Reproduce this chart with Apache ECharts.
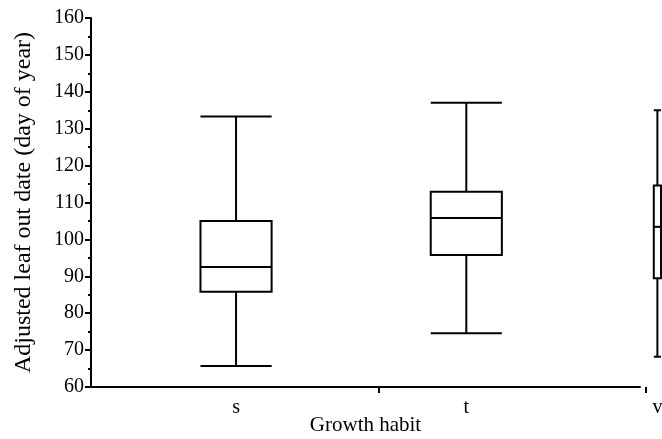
<!DOCTYPE html>
<html>
<head>
<meta charset="utf-8">
<script src="https://cdn.jsdelivr.net/npm/echarts@6/dist/echarts.min.js"></script>
<style>
  html, body { margin: 0; padding: 0; background: #fff; }
  #chart { width: 662px; height: 439px; }
</style>
</head>
<body>
<div id="chart"></div>
<script>
// ---- data ----
const categories = ['s', 't', 'v'];
const mins    = [65.7, 74.6, 68.2];
const q1s     = [85.8, 95.8, 89.5];
const medians = [92.5, 105.8, 103.4];
const q3s     = [105.0, 112.9, 114.6];
const maxs    = [133.3, 137.0, 135.0];
const yMin = 60, yMax = 160, yStep = 10;
const yTitle = 'Adjusted leaf out date (day of year)';
const xTitle = 'Growth habit';

// ---- layout helpers ----
const catPos = [1, 2, 2.83];          // where each category sits on the x scale
const tickPos = [1.62, 2.78];         // separator ticks on the x axis
const serif = "'Liberation Serif', 'Times New Roman', serif";

const boxData = categories.map((c, i) => [catPos[i], mins[i], q1s[i], medians[i], q3s[i], maxs[i]]);

const chart = echarts.init(document.getElementById('chart'), null, { renderer: 'canvas' });

function renderBox(params, api) {
  const x = api.value(0);
  const pMin = api.coord([x, api.value(1)]);
  const pQ1 = api.coord([x, api.value(2)]);
  const pMed = api.coord([x, api.value(3)]);
  const pQ3 = api.coord([x, api.value(4)]);
  const pMax = api.coord([x, api.value(5)]);
  const cx = pMin[0];
  let hw = api.size([0.309, 0])[0] / 2;
  hw = Math.min(hw, api.getWidth() - 1 - cx);
  const st = { stroke: '#000', lineWidth: 2, fill: null };
  const line = (x1, y1, x2, y2) => ({ type: 'line', shape: { x1, y1, x2, y2 }, style: st });
  return {
    type: 'group',
    children: [
      line(cx, pMax[1], cx, pQ3[1]),
      line(cx, pQ1[1], cx, pMin[1]),
      line(cx - hw, pMax[1], cx + hw, pMax[1]),
      line(cx - hw, pMin[1], cx + hw, pMin[1]),
      { type: 'rect', shape: { x: cx - hw, y: pQ3[1], width: 2 * hw, height: pQ1[1] - pQ3[1] },
        style: { stroke: '#000', lineWidth: 2, fill: '#fff' } },
      line(cx - hw, pMed[1], cx + hw, pMed[1])
    ]
  };
}

const option = {
  backgroundColor: '#fff',
  animation: false,
  grid: [
    { left: 91, right: 0, top: 18, bottom: 52, containLabel: false, outerBoundsMode: 'none' },
    { left: 91, right: 22, top: 18, bottom: 52, containLabel: false, outerBoundsMode: 'none' }
  ],
  xAxis: [
    {
      gridIndex: 0,
      type: 'value',
      min: 0.37,
      max: 2.85,
      axisLine: { show: false },
      splitLine: { show: false },
      axisTick: {
        show: true,
        customValues: tickPos,
        length: 6,
        lineStyle: { color: '#000', width: 2 }
      },
      axisLabel: {
        show: true,
        customValues: catPos,
        margin: 11,
        color: '#000',
        fontFamily: serif,
        fontSize: 20,
        formatter: function (v) {
          const i = catPos.findIndex(p => Math.abs(p - v) < 1e-6);
          return i >= 0 ? categories[i] : '';
        }
      }
    },
    {
      gridIndex: 1,
      type: 'value',
      min: 0,
      max: 1,
      axisLine: { show: true, lineStyle: { color: '#000', width: 2 } },
      axisTick: { show: false },
      axisLabel: { show: false },
      splitLine: { show: false },
      name: xTitle,
      nameLocation: 'middle',
      nameGap: 28,
      nameTextStyle: { color: '#000', fontFamily: serif, fontSize: 21 }
    }
  ],
  yAxis: [
    {
      gridIndex: 0,
      type: 'value',
      min: yMin,
      max: yMax,
      interval: yStep,
      axisLine: { show: true, lineStyle: { color: '#000', width: 2 } },
      axisTick: { show: true, length: 6, lineStyle: { color: '#000', width: 2 } },
      minorTick: { show: true, splitNumber: 2, length: 3, lineStyle: { color: '#000', width: 2 } },
      splitLine: { show: false },
      axisLabel: { color: '#000', fontFamily: serif, fontSize: 20, margin: 7 },
      name: yTitle,
      nameLocation: 'middle',
      nameGap: 55,
      nameRotate: 90,
      nameTextStyle: { color: '#000', fontFamily: serif, fontSize: 24 }
    },
    {
      gridIndex: 1,
      type: 'value',
      min: 0,
      max: 1,
      show: false
    }
  ],
  series: [
    {
      type: 'custom',
      xAxisIndex: 0,
      yAxisIndex: 0,
      clip: false,
      renderItem: renderBox,
      encode: { x: 0, y: [1, 2, 3, 4, 5] },
      data: boxData
    }
  ]
};

chart.setOption(option);
</script>
</body>
</html>
